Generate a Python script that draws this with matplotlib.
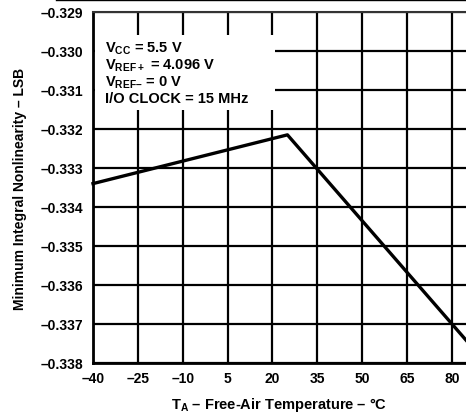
import matplotlib
matplotlib.use('Agg')
import matplotlib.pyplot as plt
from matplotlib.lines import Line2D
from matplotlib.patches import Rectangle

plt.rcParams['font.family'] = ['Liberation Sans', 'DejaVu Sans']
plt.rcParams['font.weight'] = 'bold'
plt.rcParams['mathtext.fontset'] = 'custom'
plt.rcParams['mathtext.rm'] = 'Liberation Sans:bold'
plt.rcParams['mathtext.bf'] = 'Liberation Sans:bold'
plt.rcParams['mathtext.default'] = 'bf'

# Data
temps = [-40, 25, 85]
inl_min = [-0.3334, -0.33215, -0.33744]

x_ticks = [-40, -25, -10, 5, 20, 35, 50, 65, 80]
y_ticks = [-0.329, -0.330, -0.331, -0.332, -0.333, -0.334, -0.335, -0.336, -0.337, -0.338]

fig = plt.figure(figsize=(4.66, 4.14), dpi=100)
ax = fig.add_axes([0.1996, 0.1208, 0.8004, 0.8478])

ax.plot(temps, inl_min, color='black', lw=2.4, zorder=3, clip_on=False)

ax.set_xlim(-40, 84.7)
ax.set_ylim(-0.338, -0.329)
ax.set_xticks(x_ticks)
ax.set_xticklabels([f'{t}'.replace('-', '\u2013') for t in x_ticks])
ax.set_yticks(y_ticks)
ax.set_yticklabels([f'{v:.3f}'.replace('-', '\u2013') for v in y_ticks])
ax.tick_params(axis='y', length=0, labelsize=10, pad=7)
ax.tick_params(axis='x', length=0, labelsize=10, pad=6)
for lab in ax.get_xticklabels() + ax.get_yticklabels():
    lab.set_fontweight('bold')

ax.grid(True, color='black', lw=1.6)
ax.set_axisbelow(True)
for side in ['left', 'bottom']:
    ax.spines[side].set_linewidth(2)
ax.spines['top'].set_linewidth(1.5)
ax.spines['top'].set_color('#333333')
ax.spines['right'].set_visible(False)

ax.set_xlabel('T$_{A}$ \u2013 Free-Air Temperature \u2013 \u00b0C', fontsize=10.5,
              fontweight='bold', labelpad=7)
ax.set_ylabel('Minimum Integral Nonlinearity \u2013 LSB', fontsize=10,
              fontweight='bold', labelpad=10)

# Condition box (white patch hides the grid behind the notes)
ax.add_patch(Rectangle((-39.5, -0.33152), 60.3, 0.00192, facecolor='white',
                       edgecolor='none', zorder=2))
cond = ('V$_{CC}$ = 5.5 V\n'
        'V$_{REF+}$ = 4.096 V\n'
        'V$_{REF\u2013}$ = 0 V\n'
        'I/O CLOCK = 15 MHz')
ax.text(-36.0, -0.32972, cond, fontsize=10.5, fontweight='bold', va='top', ha='left',
        linespacing=1.05, zorder=4)

# thin rule at the very top of the page
fig.add_artist(Line2D([0.12, 1.0], [0.998, 0.998], color='black', lw=1))

fig.savefig('out.png', dpi=100)
